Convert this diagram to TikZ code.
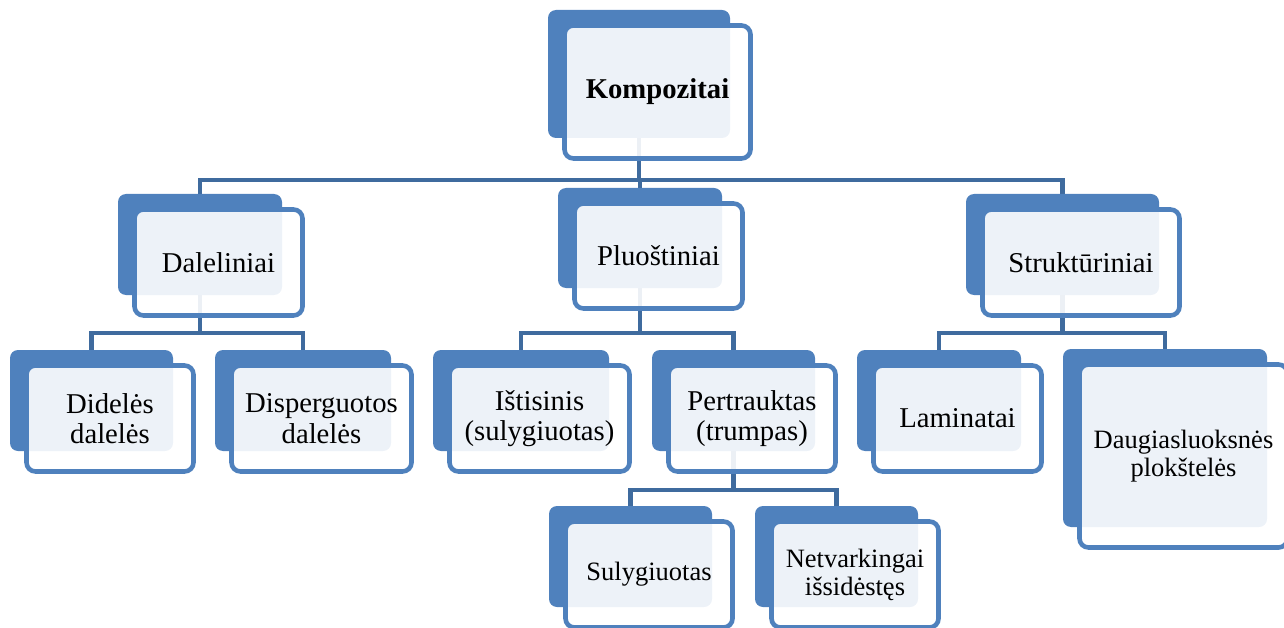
\documentclass[tikz,border=0pt]{standalone}
\usepackage{fontspec}
\setmainfont{Liberation Serif}
\pgfdeclarelayer{bg}
\pgfsetlayers{bg,main}
\definecolor{boxblue}{HTML}{4F81BD}
\definecolor{connblue}{HTML}{3F6B9E}
\newcommand\bigf{\fontsize{28.7pt}{30.5pt}\selectfont}
\newcommand\smallf{\fontsize{26.5pt}{28pt}\selectfont}
\tikzset{
  backbox/.style={rectangle, fill=boxblue, rounded corners=8pt, inner sep=0pt, outer sep=0pt},
  frontbox/.style={rectangle, fill=white, fill opacity=0.9, text opacity=1, draw=boxblue, line width=4.6pt, rounded corners=9pt, inner sep=0pt, outer sep=0pt, align=center, text=black},
  conn/.style={draw=connblue, line width=4.8pt}
}
\newcommand\cbox[7]{%
  \node[backbox, anchor=north west, minimum width={#4pt-#2pt}, minimum height={#5pt-#3pt}] (#1-b) at (#2,#3) {};
  \node[frontbox, anchor=north west, minimum width={#4pt-#2pt+4pt}, minimum height={#5pt-#3pt+5pt}, font=#6] (#1-f) at ({#2+16.5},{#3+15.5}) {#7};
}
\begin{document}
\begin{tikzpicture}[x=1pt,y=-1pt]
\useasboundingbox (0,0) rectangle (1284,628);
\clip (0,0) rectangle (1284,628);
\cbox{K}{548}{10}{730}{138}{\bigf\bfseries}{Kompozitai}
\cbox{D}{118}{194}{282}{295}{\bigf}{Daleliniai}
\cbox{P}{558}{188}{722}{288}{\bigf}{Pluoštiniai}
\cbox{S}{966}{194}{1159}{295}{\bigf}{Struktūriniai}
\cbox{DD}{10}{350}{173}{451}{\bigf}{Didelės\\dalelės}
\cbox{DP}{215}{350}{391}{451}{\bigf}{Disperguotos\\dalelės}
\cbox{IS}{433}{350}{609}{451}{\bigf}{Ištisinis\\(sulygiuotas)}
\cbox{PT}{652}{350}{815}{451}{\bigf}{Pertrauktas\\(trumpas)}
\cbox{SU}{549}{506}{712}{607}{\smallf}{Sulygiuotas}
\cbox{NV}{755}{506}{918}{607}{\smallf}{Netvarkingai\\išsidėstęs}
\cbox{LA}{857}{350}{1021}{451}{\bigf}{Laminatai}
\cbox{DA}{1063}{349}{1267}{527}{\smallf}{Daugiasluoksnės\\plokštelės}
\coordinate (bus1) at (0,180);
\coordinate (bus2) at (0,333);
\coordinate (bus3) at (0,490);
\begin{pgfonlayer}{bg}
\draw[conn] (K-b.south) -- (K-b.south |- bus1);
\draw[conn] (D-b.north) -- (D-b.north |- bus1) -| (S-b.north);
\draw[conn] (P-b.north) -- (P-b.north |- bus1);
\draw[conn] (D-b.south) -- (D-b.south |- bus2);
\draw[conn] (DD-b.north) -- (DD-b.north |- bus2) -| (DP-b.north);
\draw[conn] (P-b.south) -- (P-b.south |- bus2);
\draw[conn] (IS-b.north) -- (IS-b.north |- bus2) -| (PT-b.north);
\draw[conn] (S-b.south) -- (S-b.south |- bus2);
\draw[conn] (LA-b.north) -- (LA-b.north |- bus2) -| (DA-b.north);
\draw[conn] (PT-b.south) -- (PT-b.south |- bus3);
\draw[conn] (SU-b.north) -- (SU-b.north |- bus3) -| (NV-b.north);
\end{pgfonlayer}
\end{tikzpicture}
\end{document}
